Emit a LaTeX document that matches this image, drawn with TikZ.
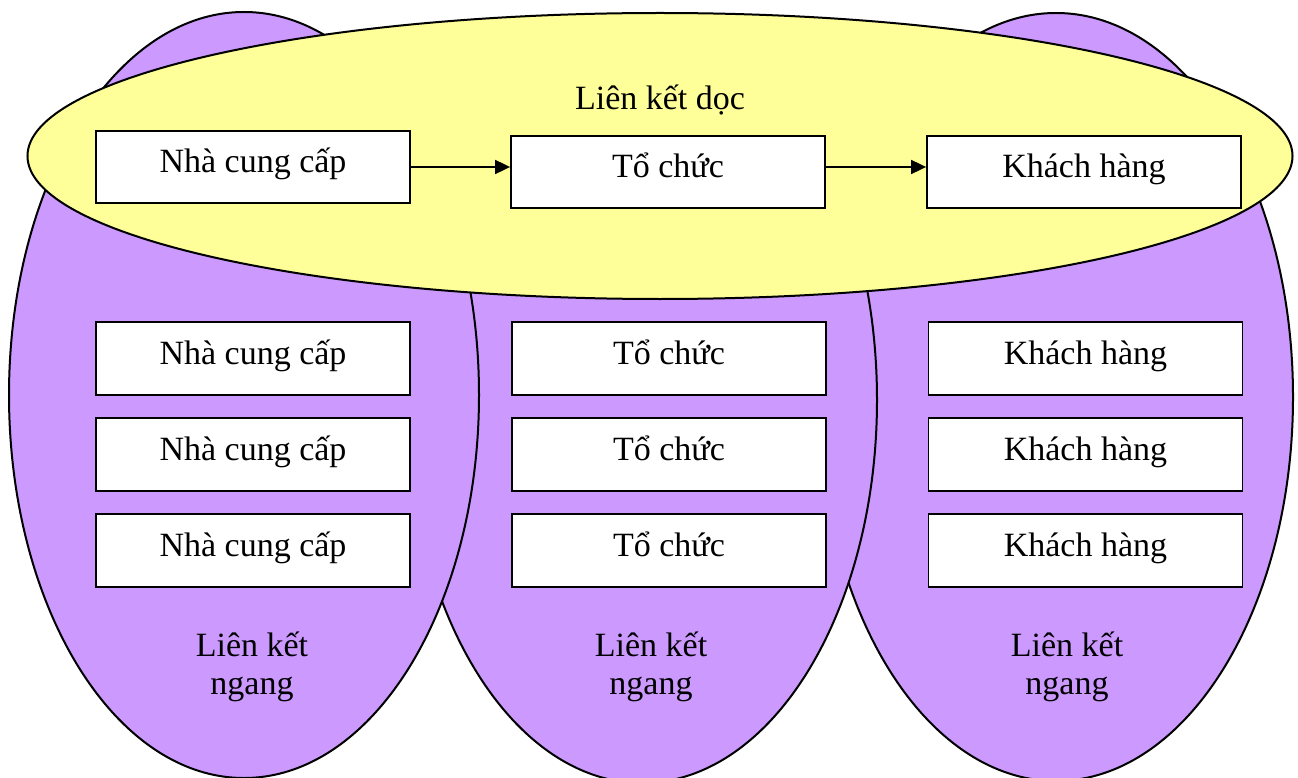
\documentclass[tikz,border=0pt]{standalone}
\usepackage{fontspec}
\setmainfont{Liberation Serif}
\usetikzlibrary{arrows.meta,shapes.geometric}
\definecolor{lilac}{HTML}{CC99FF}
\definecolor{paleyellow}{HTML}{FFFF99}
\begin{document}
\begin{tikzpicture}[x=1pt,y=-1pt,
  group/.style={ellipse, draw=black, line width=2pt, inner sep=0pt},
  horiz/.style={group, fill=lilac, minimum width=470pt, minimum height=766pt},
  vert/.style={group, fill=paleyellow, minimum width=1265pt, minimum height=286pt},
  party/.style={draw=black, fill=white, line width=1.8pt, minimum width=314pt,
    minimum height=72pt, inner sep=0pt, text height=20pt, text depth=8pt,
    font=\fontsize{34}{40}\selectfont},
  caption/.style={font=\fontsize{34}{38}\selectfont, align=center, inner sep=0pt},
  flow/.style={line width=1.8pt, -{Triangle[length=15pt,width=14pt]}}]
\clip (0,0) rectangle (1298,778);
\fill[white] (0,0) rectangle (1298,778);

% horizontal groups, back to front
\node[horiz, minimum width=474pt, minimum height=768pt] (hright) at (1056,397) {};
\node[horiz] (hmid) at (642,400) {};
\node[horiz] (hleft) at (244,395) {};

% vertical chain
\node[vert] (vchain) at (660,156) {};
\node[caption, anchor=base] (vlabel) at (660,110) {Liên kết dọc};

\node[party] (ncc) at (253,167) {Nhà cung cấp};
\node[party] (tc) at (668,172) {Tổ chức};
\node[party] (kh) at (1084,172) {Khách hàng};

\draw[flow] (ncc.east) -- (ncc.east -| tc.west);
\draw[flow] (tc.east |- ncc.east) -- (ncc.east -| kh.west);

% members of each horizontal group
\node[party, minimum height=73pt] (ncca) at (253,358.5) {Nhà cung cấp};
\node[party, minimum height=73pt] (nccb) at (253,454.5) {Nhà cung cấp};
\node[party, minimum height=73pt] (nccc) at (253,550.5) {Nhà cung cấp};
\node[party, minimum height=73pt] (tca) at (669,358.5) {Tổ chức};
\node[party, minimum height=73pt] (tcb) at (669,454.5) {Tổ chức};
\node[party, minimum height=73pt] (tcc) at (669,550.5) {Tổ chức};
\node[party, minimum height=73pt] (kha) at (1085.5,358.5) {Khách hàng};
\node[party, minimum height=73pt] (khb) at (1085.5,454.5) {Khách hàng};
\node[party, minimum height=73pt] (khc) at (1085.5,550.5) {Khách hàng};

\node[caption] (hlabelleft) at (252,667) {Liên kết\\ngang};
\node[caption] (hlabelmid) at (651,667) {Liên kết\\ngang};
\node[caption] (hlabelright) at (1067,667) {Liên kết\\ngang};
\end{tikzpicture}
\end{document}
